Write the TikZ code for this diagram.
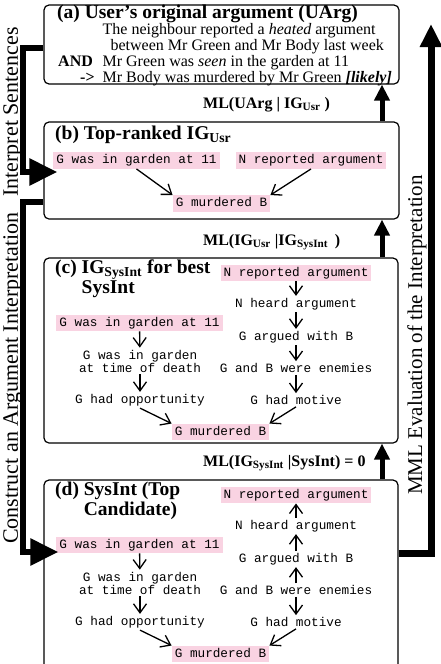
\documentclass[tikz,border=0pt]{standalone}
\usepackage{fontspec}
\setmainfont{Liberation Serif}
\setmonofont{Liberation Mono}
\usetikzlibrary{arrows.meta,positioning}
\definecolor{claimpink}{RGB}{249,211,226}
\tikzset{
  panel/.style={rectangle,rounded corners=5pt,draw=black,line width=1.2pt},
  headtext/.style={anchor=base west,inner sep=0pt,font=\fontsize{19.5}{20}\selectfont\bfseries},
  bodytext/.style={anchor=base west,inner sep=0pt,font=\fontsize{16}{16}\selectfont},
  claimbox/.style={rectangle,fill=claimpink,inner xsep=3pt,inner ysep=2pt,text height=9.5pt,text depth=3pt,font=\ttfamily\fontsize{12.7}{13}\selectfont},
  stepbox/.style={rectangle,inner sep=2pt,align=center,font=\ttfamily\fontsize{12.7}{13}\selectfont},
  mllabel/.style={anchor=base west,inner sep=0pt,font=\fontsize{16}{16}\selectfont\bfseries},
  sidetext/.style={rotate=90,inner sep=0pt,font=\fontsize{22}{22}\selectfont},
  linkarrow/.style={-{Straight Barb[length=9pt,width=13pt]},line width=1.3pt},
  uparrow/.style={-{Triangle[length=16pt,width=15pt]},line width=5pt},
  flowarrow/.style={-{Triangle[length=28pt,width=26pt]},line width=6pt}
}

\begin{document}
\begin{tikzpicture}[x=1pt,y=-1pt]
  \useasboundingbox (0,0) rectangle (440,664);

  % panels
  \node[panel,minimum width=355pt,minimum height=79pt] (uarg) at (221.5,44.5) {};
  \node[panel,minimum width=355pt,minimum height=97pt] (igusr) at (221.5,170.5) {};
  \node[panel,minimum width=354pt,minimum height=185pt] (igsys) at (221,350.5) {};
  \node[panel,minimum width=354pt,minimum height=200pt] (sysint) at (221,580) {};

  % (a)
  \node[headtext] (heada) at (57,18) {(a) User's original argument (UArg)};
  \node[bodytext] (uargtext) at (58,34) {\begin{tabular}[t]{@{}l@{\hspace{8pt}}l@{}}
    & The neighbour reported a \textit{heated} argument\\
    & \hspace{8pt}between Mr Green and Mr Body last week\\
    \textbf{AND} & Mr Green was \textit{seen} in the garden at 11\\
    \hspace{22pt}\textbf{->} & Mr Body was murdered by Mr Green \textbf{\textit{[likely]}}
  \end{tabular}};

  % (b)
  \node[headtext] (headb) at (55,139) {(b) Top-ranked IG\textsubscript{Usr}};
  \node[claimbox] (gardenb) at (136.5,160.5) {G was in garden at 11};
  \node[claimbox] (reportb) at (311,160.5) {N reported argument};
  \node[claimbox] (murderb) at (221.5,203.5) {G murdered B};
  \draw[linkarrow] (gardenb.south) -- (murderb.north west);
  \draw[linkarrow] (reportb.south) -- (murderb.north east);

  % (c)
  \node[headtext] (headc) at (55,273) {\begin{tabular}[t]{@{}l@{ }l@{}}
    (c) & IG\textsubscript{SysInt} for best\\
        & SysInt
  \end{tabular}};
  \node[claimbox] (reportc) at (296,273) {N reported argument};
  \node[stepbox] (heardc) at (296,304) {N heard argument};
  \node[stepbox] (arguedc) at (296,337) {G argued with B};
  \node[stepbox] (enemiesc) at (296,368) {G and B were enemies};
  \node[stepbox] (motivec) at (296,400) {G had motive};
  \node[claimbox] (gardenc) at (139.5,323) {G was in garden at 11};
  \node[stepbox] (deathc) at (140,361) {G was in garden\\at time of death};
  \node[stepbox] (opportc) at (140,400) {G had opportunity};
  \node[claimbox] (murderc) at (220.5,432) {G murdered B};
  \draw[linkarrow] (reportc) -- (heardc);
  \draw[linkarrow] (heardc) -- (arguedc);
  \draw[linkarrow] (arguedc) -- (enemiesc);
  \draw[linkarrow] (enemiesc) -- (motivec);
  \draw[linkarrow] (gardenc) -- (deathc);
  \draw[linkarrow] (deathc) -- (opportc);
  \draw[linkarrow] (opportc.south) -- (murderc.north west);
  \draw[linkarrow] (motivec.south) -- (murderc.north east);

  % (d)
  \node[headtext] (headd) at (55,495) {\begin{tabular}[t]{@{}l@{ }l@{}}
    (d) & SysInt (Top\\
        & Candidate)
  \end{tabular}};
  \node[claimbox] (reportd) at (296,495) {N reported argument};
  \node[stepbox] (heardd) at (296,526) {N heard argument};
  \node[stepbox] (arguedd) at (296,559) {G argued with B};
  \node[stepbox] (enemiesd) at (296,590) {G and B were enemies};
  \node[stepbox] (motived) at (296,622) {G had motive};
  \node[claimbox] (gardend) at (139.5,545) {G was in garden at 11};
  \node[stepbox] (deathd) at (140,583) {G was in garden\\at time of death};
  \node[stepbox] (opportd) at (140,622) {G had opportunity};
  \node[claimbox] (murderd) at (220.5,654) {G murdered B};
  \draw[linkarrow] (heardd) -- (reportd);
  \draw[linkarrow] (arguedd) -- (heardd);
  \draw[linkarrow] (enemiesd) -- (arguedd);
  \draw[linkarrow] (enemiesd) -- (motived);
  \draw[linkarrow] (gardend) -- (deathd);
  \draw[linkarrow] (deathd) -- (opportd);
  \draw[linkarrow] (opportd.south) -- (murderd.north west);
  \draw[linkarrow] (motived.south) -- (murderd.north east);

  % evaluation between panels
  \node[mllabel] (mluarg) at (203,108) {ML(UArg | IG\textsubscript{Usr} )};
  \node[mllabel] (mligusr) at (203,245) {ML(IG\textsubscript{Usr} |IG\textsubscript{SysInt}\, )};
  \node[mllabel] (mlsysint) at (203,466) {ML(IG\textsubscript{SysInt} |SysInt) = 0};
  \draw[uparrow] ([xshift=160.5pt]igusr.north) -- ([xshift=160.5pt]uarg.south);
  \draw[uparrow] ([xshift=161pt]igsys.north) -- ([xshift=160.5pt]igusr.south);
  \draw[uparrow] ([xshift=161pt]sysint.north) -- ([xshift=161pt]igsys.south);

  % side flows
  \node[sidetext] (interpret) at (13,112) {Interpret Sentences};
  \node[sidetext] (construct) at (13,378) {Construct an Argument Interpretation};
  \node[sidetext,font=\fontsize{21}{21}\selectfont] (mmleval) at (417,335) {MML Evaluation of the Interpretation};
  \coordinate (mmltop) at (431,24);
  \draw[flowarrow] ([yshift=-3.5pt]uarg.west) -- ++(-20,0) |- ([xshift=4pt,yshift=-11.5pt]gardenb.west);
  \draw[flowarrow] ([yshift=-31.5pt]igusr.west) -- ++(-20,0) |- ([xshift=2pt,yshift=-7pt]gardend.west);
  \draw[flowarrow,-{Triangle[length=23pt,width=21pt]},line width=7pt] ([yshift=27pt]sysint.east) -| (mmltop);
\end{tikzpicture}
\end{document}
